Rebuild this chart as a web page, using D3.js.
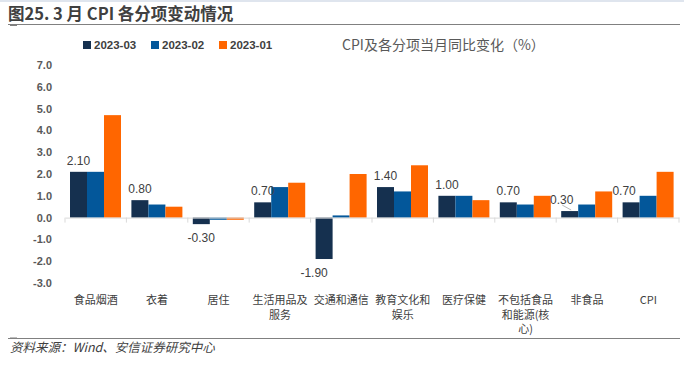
<!DOCTYPE html>
<html>
<head>
<meta charset="utf-8">
<script src="https://cdn.jsdelivr.net/npm/d3@7"></script>
<style>
  body { margin: 0; background: #fff; }
  text { font-family: "Liberation Sans", "Noto Sans CJK SC", sans-serif; }
  .cjk { font-family: "Noto Sans CJK SC", "Liberation Sans", sans-serif; }
</style>
</head>
<body>
<div id="chart"></div>
<script>
// data
var categories = ["食品烟酒", "衣着", "居住", "生活用品及服务", "交通和通信", "教育文化和娱乐", "医疗保健", "不包括食品和能源(核心)", "非食品", "CPI"];
var categoryLines = [["食品烟酒"], ["衣着"], ["居住"], ["生活用品及", "服务"], ["交通和通信"], ["教育文化和", "娱乐"], ["医疗保健"], ["不包括食品", "和能源(核", "心)"], ["非食品"], ["CPI"]];
var seriesNames = ["2023-03", "2023-02", "2023-01"];
var mar2023 = [2.1, 0.8, -0.3, 0.7, -1.9, 1.4, 1.0, 0.7, 0.3, 0.7];
var feb2023 = [2.1, 0.6, -0.1, 1.4, 0.1, 1.2, 1.0, 0.6, 0.6, 1.0];
var jan2023 = [4.7, 0.5, -0.1, 1.6, 2.0, 2.4, 0.8, 1.0, 1.2, 2.1];
var yTicks = [-3, -2, -1, 0, 1, 2, 3, 4, 5, 6, 7];

var colors = ["#15304f", "#03579a", "#ff6600"];
// label nudges where Excel dodged overlapping labels
var labelDx = {"交通和通信": -10, "非食品": -8, "CPI": -7};

var width = 684, height = 367;

// excel style: plain hyphen for negatives
var fmt1 = function(v) { return d3.format(".1f")(v).replace("\u2212", "-"); };
var fmt2 = function(v) { return d3.format(".2f")(v).replace("\u2212", "-"); };

var svg = d3.select("#chart")
.append("svg")
.attr("width", width)
.attr("height", height);

// header band + title
svg.append("rect").attr("x", 0).attr("y", 0).attr("width", width).attr("height", 2).attr("fill", "#dfe5ee");

svg.append("text")
.attr("class", "cjk")
.attr("x", 8)
.attr("y", 20)
.attr("font-size", "16.5px")
.attr("font-weight", "bold")
.attr("fill", "#404040")
.text("图25. 3 月 CPI 各分项变动情况");

svg.append("line").attr("x1", 8).attr("x2", 680).attr("y1", 24.5).attr("y2", 24.5).attr("stroke", "#808080").attr("stroke-width", 1);
svg.append("line").attr("x1", 10).attr("x2", 17).attr("y1", 25.5).attr("y2", 25.5).attr("stroke", "#808080").attr("stroke-width", 1);

// scales
var x0 = d3.scaleBand()
.domain(categories)
.range([65, 679])
.padding(0);

var x1 = d3.scaleBand()
.domain(seriesNames)
.range([5, 56])
.padding(0);

var y = d3.scaleLinear()
.domain([-3, 7])
.range([283, 65]);

var table = categories.map(function(c, i) {
	return {cat: c, values: [mar2023[i], feb2023[i], jan2023[i]]};
});

// y axis labels (no line)
var yAxis = d3.axisLeft(y)
.tickValues(yTicks)
.tickFormat(fmt1)
.tickSize(0)
.tickPadding(0);

var yg = svg.append("g")
.attr("transform", "translate(52,0)")
.call(yAxis);
yg.select(".domain").remove();
yg.selectAll("text")
.attr("font-family", "Liberation Sans, sans-serif")
.attr("font-size", "11px")
.attr("font-weight", "bold")
.attr("fill", "#595959");

// bars
var groups = svg.selectAll("g.cat")
.data(table)
.enter()
.append("g")
.attr("class", "cat")
.attr("transform", function(d) { return "translate(" + x0(d.cat) + ",0)"; });

groups.selectAll("rect")
.data(function(d) { return d.values.map(function(v, i) { return {name: seriesNames[i], value: v, i: i}; }); })
.enter()
.append("rect")
.attr("x", function(d) { return x1(d.name); })
.attr("width", x1.bandwidth())
.attr("y", function(d) { return y(Math.max(0, d.value)); })
.attr("height", function(d) { return Math.abs(y(d.value) - y(0)); })
.attr("fill", function(d) { return colors[d.i]; });

// x axis line with category-boundary ticks
var xAxis = d3.axisBottom(x0).tickSize(0).tickFormat("");
var xg = svg.append("g")
.attr("transform", "translate(0," + y(0) + ")")
.call(xAxis);
xg.select(".domain").attr("stroke", "#d9d9d9");
xg.selectAll(".tick").remove();

var bounds = categories.map(function(c) { return x0(c); }).concat([x0.range()[1]]);
xg.selectAll("line.bound")
.data(bounds)
.enter()
.append("line")
.attr("class", "bound")
.attr("x1", function(d) { return d; })
.attr("x2", function(d) { return d; })
.attr("y1", 0)
.attr("y2", 5)
.attr("stroke", "#d9d9d9");

// category labels
var catText = svg.selectAll("text.catlabel")
.data(table)
.enter()
.append("text")
.attr("class", "catlabel cjk")
.attr("x", function(d) { return x0(d.cat) + x0.bandwidth() / 2; })
.attr("y", 304)
.attr("text-anchor", "middle")
.attr("font-size", "11px")
.attr("fill", "#404040");

catText.selectAll("tspan")
.data(function(d, i) { return categoryLines[i]; })
.enter()
.append("tspan")
.attr("x", function() { return d3.select(this.parentNode).attr("x"); })
.attr("dy", function(d, i) { return i === 0 ? 0 : 14.7; })
.text(function(d) { return d; });

// value labels for 2023-03
svg.selectAll("text.value_text")
.data(table)
.enter()
.append("text")
.attr("class", "value_text")
.attr("x", function(d) { return x0(d.cat) + x1(seriesNames[0]) + x1.bandwidth() / 2 + (labelDx[d.cat] || 0); })
.attr("y", function(d) {
	var v = d.values[0];
	return v >= 0 ? y(v) - 7 : y(v) + 18;
})
.attr("text-anchor", "middle")
.attr("font-size", "12px")
.attr("fill", "#404040")
.text(function(d) { return fmt2(d.values[0]); });

// leader line for the dodged 非食品 label
var nf = categories.indexOf("非食品");
svg.append("line")
.attr("x1", x0(categories[nf]) + x1(seriesNames[0]) + 1)
.attr("y1", y(mar2023[nf]) - 6)
.attr("x2", x0(categories[nf]) + x1(seriesNames[0]) + 10)
.attr("y2", y(mar2023[nf]) - 1)
.attr("stroke", "#a6a6a6")
.attr("stroke-width", 0.8);

// legend
var legend = svg.selectAll("g.legend")
.data(seriesNames)
.enter()
.append("g")
.attr("class", "legend")
.attr("transform", function(d, i) { return "translate(" + (83 + i * 68) + ",41)"; });

legend.append("rect")
.attr("width", 8)
.attr("height", 8)
.attr("fill", function(d, i) { return colors[i]; });

legend.append("text")
.attr("x", 11)
.attr("y", 8.3)
.attr("font-size", "11.5px")
.attr("font-weight", "bold")
.attr("fill", "#404040")
.text(function(d) { return d; });

// chart subtitle
svg.append("text")
.attr("class", "cjk")
.attr("x", 342)
.attr("y", 50)
.attr("font-size", "14px")
.attr("fill", "#595959")
.text("CPI及各分项当月同比变化（%）");

// footer
svg.append("line").attr("x1", 8).attr("x2", 680).attr("y1", 338.5).attr("y2", 338.5).attr("stroke", "#808080").attr("stroke-width", 1);
svg.append("line").attr("x1", 10).attr("x2", 17).attr("y1", 337.5).attr("y2", 337.5).attr("stroke", "#bfbfbf").attr("stroke-width", 1);

svg.append("text")
.attr("class", "cjk")
.attr("x", 10)
.attr("y", 352)
.attr("font-size", "12.5px")
.attr("font-style", "italic")
.attr("fill", "#404040")
.text("资料来源：Wind、安信证券研究中心");
</script>
</body>
</html>
